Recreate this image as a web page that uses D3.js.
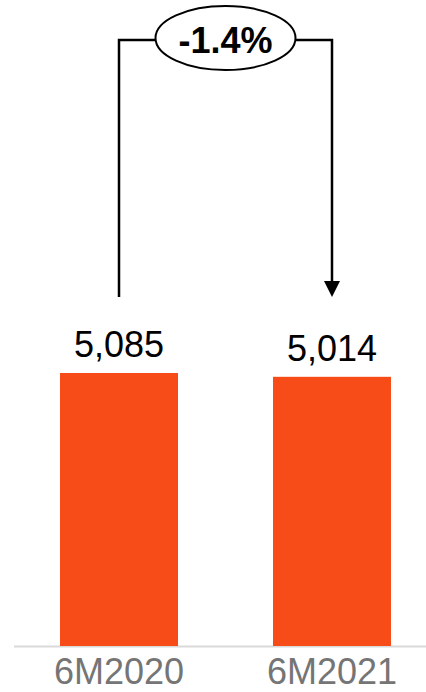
<!DOCTYPE html>
<html>
<head>
<meta charset="utf-8">
<script src="https://cdn.jsdelivr.net/npm/d3@7/dist/d3.min.js"></script>
<style>
html,body{margin:0;padding:0;background:#fff;}
svg{display:block;}
</style>
</head>
<body>
<svg id="chart" width="426" height="692"></svg>
<script>
const categories = ["6M2020", "6M2021"];
const values = [5085, 5014];
const valueLabels = ["5,085", "5,014"];
const changeLabel = "-1.4%";

const svg = d3.select("#chart");
const font = "Arial, 'Liberation Sans', sans-serif";
const baseY = 646;

const x = d3.scaleBand().domain(categories).range([60, 391]).paddingInner(0.446).paddingOuter(0);
const y = d3.scaleLinear().domain([0, 6000]).range([baseY, baseY - 6000 * 273 / 5085]);

// baseline
svg.append("line")
  .attr("x1", 14).attr("x2", 426)
  .attr("y1", baseY + 0.5).attr("y2", baseY + 0.5)
  .attr("stroke", "#d9d9d9").attr("stroke-width", 2);

// bars
svg.selectAll("rect.bar").data(values).join("rect")
  .attr("class", "bar")
  .attr("x", (d, i) => x(categories[i]))
  .attr("width", x.bandwidth())
  .attr("y", d => y(d))
  .attr("height", d => y(0) - y(d))
  .attr("fill", "#f84c18");

// value labels
svg.selectAll("text.val").data(values).join("text")
  .attr("class", "val")
  .attr("x", (d, i) => x(categories[i]) + x.bandwidth() / 2)
  .attr("y", d => y(d) - 16)
  .attr("text-anchor", "middle")
  .attr("font-family", font)
  .attr("font-size", 36)
  .attr("fill", "#000")
  .text((d, i) => valueLabels[i]);

// category labels
const xAxis = d3.axisBottom(x).tickSize(0).tickPadding(0);
const gx = svg.append("g").attr("transform", `translate(0,${baseY})`).call(xAxis);
gx.select(".domain").remove();
gx.selectAll("text")
  .attr("dy", null)
  .attr("y", 38)
  .attr("font-family", font)
  .attr("font-size", 36)
  .attr("fill", "#757575");

// change connector
const c1 = x(categories[0]) + x.bandwidth() / 2;
const c2 = x(categories[1]) + x.bandwidth() / 2;
const topY = 40;
const ex = (c1 + c2) / 2, ey = 38, rx = 70, ry = 32;
const bottomY = 297;

svg.append("path")
  .attr("d", `M${c1},${bottomY} V${topY} H${ex - rx}`)
  .attr("fill", "none").attr("stroke", "#000").attr("stroke-width", 2.5);
svg.append("path")
  .attr("d", `M${ex + rx},${topY} H${c2} V${bottomY - 15}`)
  .attr("fill", "none").attr("stroke", "#000").attr("stroke-width", 2.5);
svg.append("path")
  .attr("d", `M${c2 - 8},${bottomY - 16} L${c2 + 8},${bottomY - 16} L${c2},${bottomY} Z`)
  .attr("fill", "#000");

svg.append("ellipse")
  .attr("cx", ex).attr("cy", ey).attr("rx", rx).attr("ry", ry)
  .attr("fill", "#fff").attr("stroke", "#000").attr("stroke-width", 2);
svg.append("text")
  .attr("x", ex).attr("y", 53)
  .attr("text-anchor", "middle")
  .attr("font-family", font)
  .attr("font-size", 36)
  .attr("font-weight", "bold")
  .attr("fill", "#000")
  .text(changeLabel);
</script>
</body>
</html>
